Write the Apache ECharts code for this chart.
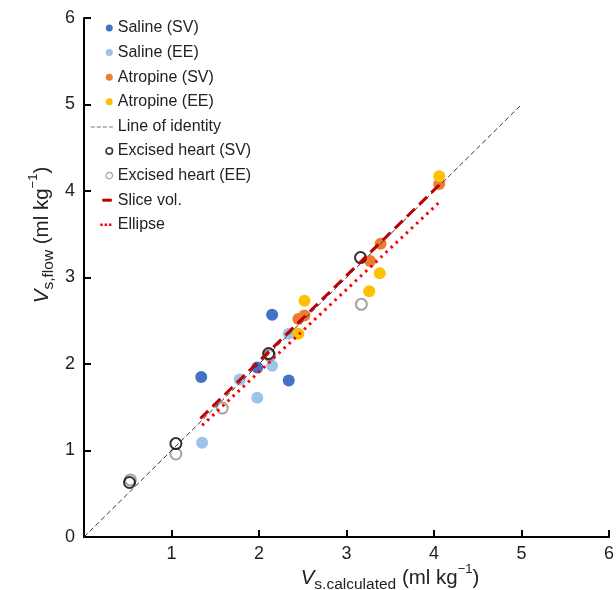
<!DOCTYPE html>
<html>
<head>
<meta charset="utf-8">
<script src="https://cdn.jsdelivr.net/npm/echarts@6/dist/echarts.min.js"></script>
<style>
  html, body { margin: 0; padding: 0; background: #fff; }
  #chart { width: 616px; height: 590px; }
</style>
</head>
<body>
<div id="chart"></div>
<script>
// data: [Vs,calculated, Vs,flow]
var salineSV = [[1.34, 1.85], [2.15, 2.57], [1.98, 1.96], [2.34, 1.81]];
var salineEE = [[1.78, 1.82], [2.15, 1.98], [1.98, 1.61], [2.34, 2.35], [1.35, 1.09]];
var atropineSV = [[2.45, 2.52], [2.52, 2.56], [3.27, 3.19], [3.39, 3.39], [4.06, 4.08]];
var atropineEE = [[2.52, 2.73], [2.45, 2.35], [3.38, 3.05], [3.26, 2.84], [4.06, 4.17]];
var excisedSV = [[3.16, 3.23], [1.05, 1.08], [0.52, 0.63], [2.11, 2.12]];
var excisedEE = [[1.05, 0.96], [1.58, 1.49], [3.17, 2.69], [0.53, 0.66], [2.12, 2.10]];
var identity = [[0, 0], [5, 5]];
var sliceVol = [[1.33, 1.37], [4.06, 4.07]];
var ellipse = [[1.35, 1.29], [4.05, 3.86]];

var font = 'Liberation Sans, Arial, sans-serif';
var rich = {
    i: { fontStyle: 'italic', fontSize: 20.5, fontFamily: font, color: '#222', lineHeight: 24 },
    n: { fontSize: 20.5, fontFamily: font, color: '#222', lineHeight: 24 },
    sub: { fontSize: 15.5, fontFamily: font, color: '#222', lineHeight: 10, verticalAlign: 'bottom' },
    sup: { fontSize: 13, fontFamily: font, color: '#222', lineHeight: 30, verticalAlign: 'top' }
};

// legend icons drawn in a 22x8 box (the M0,0M22,8 keeps the box size)
var box = 'path://M0,0M22,8';
var dotIcon = box + 'M15,4a3.5,3.5 0 1,1 7,0a3.5,3.5 0 1,1 -7,0z';
var ringIcon = box + 'M15.3,4a3.2,3.2 0 1,1 6.4,0a3.2,3.2 0 1,1 -6.4,0z';
var dashIcon = box + 'M0,4h4v1h-4zM6,4h4v1h-4zM12,4h4v1h-4zM18,4h4v1h-4z';
var sliceIcon = box + 'M11.5,2.5h9.5v3h-9.5z';
var dotsIcon = box + 'M9.5,2.8h2.5v2.5h-2.5zM13.8,2.8h2.5v2.5h-2.5zM18.1,2.8h2.5v2.5h-2.5z';

function dot(name, data, color) {
    return {
        name: name, type: 'scatter', data: data, symbolSize: 12, z: 3,
        itemStyle: { color: color, opacity: 1 }
    };
}
function ring(name, data, color) {
    return {
        name: name, type: 'scatter', data: data, symbolSize: 11, z: 4,
        itemStyle: { color: 'rgba(255,255,255,0)', borderColor: color, borderWidth: 2 }
    };
}
function line(name, data, color, width, dash) {
    return {
        name: name, type: 'line', data: data, symbol: 'none', z: 5,
        lineStyle: { color: color, width: width, type: dash },
        itemStyle: { color: color }
    };
}

var myEcharts = echarts.init(document.getElementById('chart'));
var option = {
    animation: false,
    grid: { left: 84, right: 7, top: 18, bottom: 53, outerBoundsMode: 'none' },
    legend: {
        orient: 'vertical', left: 85, top: 15, itemGap: 8.6,
        itemWidth: 22, itemHeight: 8,
        textStyle: { fontSize: 16, fontFamily: font, color: '#222' },
        data: [
            { name: 'Saline (SV)', icon: dotIcon, itemStyle: { borderWidth: 0 } },
            { name: 'Saline (EE)', icon: dotIcon, itemStyle: { borderWidth: 0 } },
            { name: 'Atropine (SV)', icon: dotIcon, itemStyle: { borderWidth: 0 } },
            { name: 'Atropine (EE)', icon: dotIcon, itemStyle: { borderWidth: 0 } },
            { name: 'Line of identity', icon: dashIcon, itemStyle: { color: '#777', borderWidth: 0 } },
            { name: 'Excised heart (SV)', icon: ringIcon, itemStyle: { borderWidth: 1.6 } },
            { name: 'Excised heart (EE)', icon: ringIcon, itemStyle: { borderWidth: 1.2 } },
            { name: 'Slice vol.', icon: sliceIcon, itemStyle: { borderWidth: 0 } },
            { name: 'Ellipse', icon: dotsIcon, itemStyle: { borderWidth: 0 } }
        ]
    },
    xAxis: {
        type: 'value', min: 0, max: 6, interval: 1,
        name: '{i|V}{sub|s.calculated}{n| (ml kg}{sup|−1}{n|)}',
        nameLocation: 'middle', nameGap: 26, nameMoveOverlap: false,
        nameTextStyle: { rich: rich, padding: [0, 0, 0, 87] },
        axisLine: { lineStyle: { color: '#000', width: 2 } },
        axisTick: { inside: true, length: 7, lineStyle: { color: '#000', width: 2 } },
        axisLabel: {
            fontSize: 18, fontFamily: font, color: '#222', margin: 8,
            formatter: function (v) { return v === 0 ? '' : v; }
        },
        splitLine: { show: false }
    },
    yAxis: {
        type: 'value', min: 0, max: 6, interval: 1,
        name: '{i|V}{sub|s,flow}{n| (ml kg}{sup|−1}{n|)}',
        nameLocation: 'middle', nameGap: 27, nameRotate: 90, nameMoveOverlap: false,
        nameTextStyle: { rich: rich, padding: [0, 0, 0, 85] },
        axisLine: { lineStyle: { color: '#000', width: 2 } },
        axisTick: { inside: true, length: 7, lineStyle: { color: '#000', width: 2 } },
        axisLabel: { fontSize: 18, fontFamily: font, color: '#222', margin: 9 },
        splitLine: { show: false }
    },
    series: [
        dot('Saline (SV)', salineSV, '#4472C4'),
        dot('Saline (EE)', salineEE, '#9DC3E6'),
        dot('Atropine (SV)', atropineSV, '#ED7D31'),
        dot('Atropine (EE)', atropineEE, '#FFC000'),
        line('Line of identity', identity, '#333', 1, [5, 3]),
        ring('Excised heart (EE)', excisedEE, '#8c8c8c'),
        ring('Excised heart (SV)', excisedSV, '#000'),
        line('Slice vol.', sliceVol, '#C00000', 3, [11, 6]),
        line('Ellipse', ellipse, '#FF0000', 3, [2.5, 4.5])
    ]
};
myEcharts.setOption(option);
</script>
</body>
</html>
